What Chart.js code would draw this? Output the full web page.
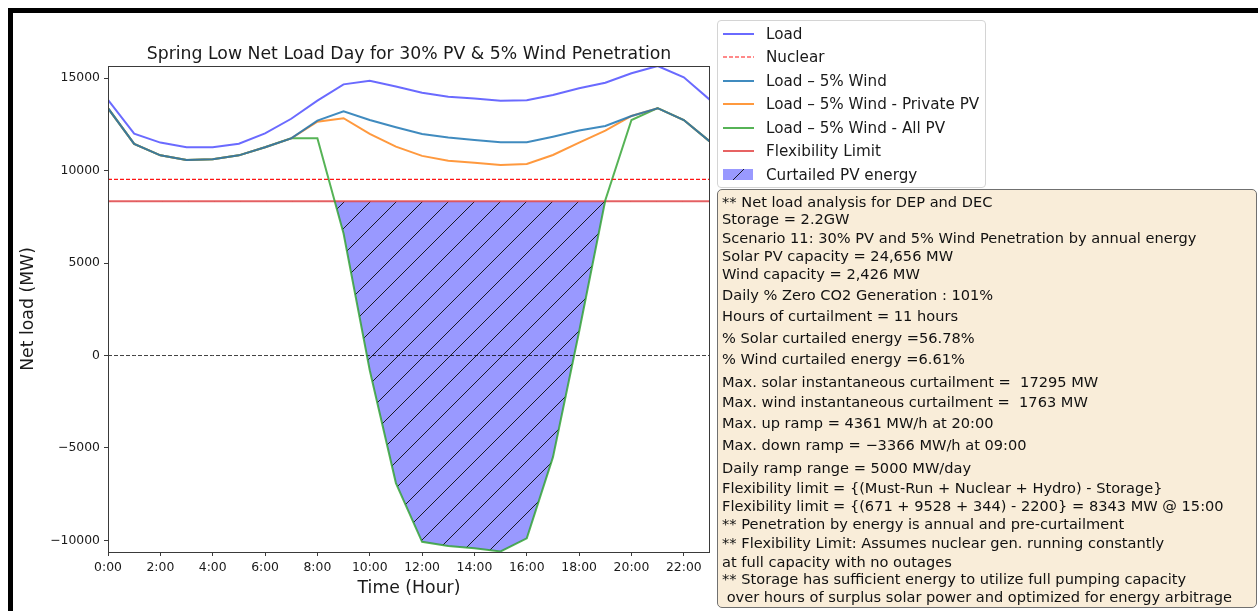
<!DOCTYPE html>
<html>
<head>
<meta charset="utf-8">
<script src="https://cdn.jsdelivr.net/npm/chart.js@4.4.0/dist/chart.umd.min.js"></script>
<style>
html,body{margin:0;padding:0;background:#fff;}
#wrap{position:relative;width:1258px;height:611px;overflow:hidden;font-family:"DejaVu Sans",sans-serif;background:#fff;}
#frame{position:absolute;left:8px;top:8px;right:-10px;bottom:-10px;border-top:5px solid #000;border-left:5px solid #000;pointer-events:none;}
#chart{position:absolute;left:0;top:0;}
#legend{position:absolute;left:717px;top:20px;width:267px;height:166px;border:1px solid #d4d4d4;border-radius:4px;background:rgba(255,255,255,0.85);}
.lg-row{position:absolute;left:0;width:265px;height:20px;}
.lg-sw{position:absolute;left:4px;top:0;}
.lg-tx{position:absolute;left:48px;top:0;line-height:20px;font-size:15.2px;color:#1a1a1a;white-space:pre;}
#note{position:absolute;left:717px;top:189px;width:538px;height:417px;border:1px solid #707070;border-radius:5px;background:rgb(249,237,217);}
.nl{position:absolute;left:4px;line-height:20px;font-size:14.6px;color:#111;white-space:pre;}
</style>
</head>
<body>
<div id="wrap">
  <canvas id="chart" width="1258" height="611"></canvas>
  <div id="legend"></div>
  <div id="note"></div>
  <div id="frame"></div>
</div>
<script>
// ---------- data ----------
const hours = [0,1,2,3,4,5,6,7,8,9,10,11,12,13,14,15,16,17,18,19,20,21,22,23];
const loadMW = [13830,12000,11520,11270,11270,11460,12020,12810,13790,14670,14870,14550,14220,14000,13910,13790,13810,14100,14460,14760,15270,15666,15050,13830];
const loadMinusWind = [13380,11450,10830,10580,10620,10830,11270,11750,12710,13210,12740,12350,11990,11790,11660,11540,11540,11840,12170,12420,12960,13380,12740,11570];
const loadMinusWindPrivatePV = [13380,11450,10830,10580,10620,10830,11270,11750,12650,12840,11990,11300,10800,10540,10430,10310,10360,10850,11520,12170,12960,13380,12740,11570];
const loadMinusWindAllPV = [13380,11450,10830,10580,10620,10830,11270,11750,11750,6600,-800,-6900,-10080,-10300,-10430,-10600,-9890,-5500,1300,8400,12740,13380,12740,11570];
const nuclearMW = 9528;
const flexLimitMW = 8343;
const zeroMW = 0;
const xTickHours = [0,2,4,6,8,10,12,14,16,18,20,22];
const xTickLabels = ['0:00','2:00','4:00','6:00','8:00','10:00','12:00','14:00','16:00','18:00','20:00','22:00'];
const yTickValues = [-10000,-5000,0,5000,10000,15000];
const yMin = -10630, yMax = 15666;

const noteLines = [
  '** Net load analysis for DEP and DEC',
  'Storage = 2.2GW',
  'Scenario 11: 30% PV and 5% Wind Penetration by annual energy',
  'Solar PV capacity = 24,656 MW',
  'Wind capacity = 2,426 MW',
  'Daily % Zero CO2 Generation : 101%',
  'Hours of curtailment = 11 hours',
  '% Solar curtailed energy =56.78%',
  '% Wind curtailed energy =6.61%',
  'Max. solar instantaneous curtailment =  17295 MW',
  'Max. wind instantaneous curtailment =  1763 MW',
  'Max. up ramp = 4361 MW/h at 20:00',
  'Max. down ramp = \u22123366 MW/h at 09:00',
  'Daily ramp range = 5000 MW/day',
  'Flexibility limit = {(Must-Run + Nuclear + Hydro) - Storage}',
  'Flexibility limit = {(671 + 9528 + 344) - 2200} = 8343 MW @ 15:00',
  '** Penetration by energy is annual and pre-curtailment',
  '** Flexibility Limit: Assumes nuclear gen. running constantly',
  'at full capacity with no outages',
  '** Storage has sufficient energy to utilize full pumping capacity',
  ' over hours of surplus solar power and optimized for energy arbitrage'
];
// ---------- layout (page pixels) ----------
const noteLineCenters = [201.7,219.3,238.3,256,274.3,295,316,337.7,359.3,382.3,401.7,423.3,445,468.3,488.3,506,524,543.3,561.7,579,596.7];

const FONT = '"DejaVu Sans", sans-serif';
const hatchFill = 'rgb(153,153,255)';

function makeHatch(){
  const s = 26;
  const c = document.createElement('canvas');
  c.width = s; c.height = s;
  const g = c.getContext('2d');
  g.fillStyle = hatchFill; g.fillRect(0,0,s,s);
  g.strokeStyle = 'rgba(0,0,0,0.85)'; g.lineWidth = 1;
  g.beginPath();
  g.moveTo(-1,s+1); g.lineTo(s+1,-1);
  g.moveTo(-1,1); g.lineTo(1,-1);
  g.moveTo(s-1,s+1); g.lineTo(s+1,s-1);
  g.stroke();
  return c;
}
const hatchCanvas = makeHatch();
const ctx0 = document.getElementById('chart').getContext('2d');
const hatchPattern = ctx0.createPattern(hatchCanvas,'repeat');

const pts = arr => hours.map((h,i)=>({x:h,y:arr[i]}));
const constPts = v => hours.map(h=>({x:h,y:v}));

const datasets = [
  {label:'Load', data:pts(loadMW), borderColor:'rgba(80,80,255,0.85)', borderWidth:2},
  {label:'Nuclear', data:constPts(nuclearMW), borderColor:'rgb(255,20,20)', borderWidth:1.2, borderDash:[4,2]},
  {label:'Load \u2013 5% Wind', data:pts(loadMinusWind), borderColor:'rgba(31,119,180,0.85)', borderWidth:2},
  {label:'Load \u2013 5% Wind - Private PV', data:pts(loadMinusWindPrivatePV), borderColor:'rgba(255,127,14,0.8)', borderWidth:2},
  {label:'Load \u2013 5% Wind - All PV', data:pts(loadMinusWindAllPV), borderColor:'rgba(44,160,44,0.8)', borderWidth:2},
  {label:'Flexibility Limit', data:constPts(flexLimitMW), borderColor:'rgba(225,60,60,0.8)', borderWidth:2},
  {label:'Curtailed PV energy', data:pts(loadMinusWindAllPV), borderWidth:0, borderColor:'rgba(0,0,0,0)',
    backgroundColor:hatchPattern, isPatch:true,
    fill:{target:{value:flexLimitMW}, above:'rgba(0,0,0,0)', below:hatchPattern}},
  {label:'', data:constPts(zeroMW), borderColor:'rgba(0,0,0,0.75)', borderWidth:1, borderDash:[4,2], hideInLegend:true}
];
datasets.forEach(d=>{ d.pointRadius = 0; d.tension = 0; if(d.fill===undefined) d.fill = false; });
datasets[6].order = 10;

const spinePlugin = {
  id:'spines',
  afterDatasetsDraw(chart){
    const {ctx, chartArea:a} = chart;
    ctx.save();
    ctx.strokeStyle = '#3a3a3a'; ctx.lineWidth = 1;
    ctx.strokeRect(Math.round(a.left)+0.5, Math.round(a.top)+0.5, Math.round(a.right-a.left)-1, Math.round(a.bottom-a.top));
    ctx.restore();
  }
};

const chart = new Chart(ctx0, {
  type:'line',
  data:{datasets},
  plugins:[spinePlugin],
  options:{
    responsive:false, animation:false, devicePixelRatio:1,
    events:[],
    layout:{padding:{left:0, right:548, top:0, bottom:0}},
    plugins:{
      legend:{display:false}, tooltip:{enabled:false},
      title:{display:true, fullSize:false, text:'Spring Low Net Load Day for 30% PV & 5% Wind Penetration',
        color:'#1a1a1a', font:{family:FONT, size:17.3, weight:'normal', lineHeight:1.2},
        padding:{top:44, bottom:1.2}},
      filler:{propagate:false}
    },
    scales:{
      x:{type:'linear', min:0, max:23,
        afterBuildTicks:s=>{ s.ticks = xTickHours.map(v=>({value:v})); },
        afterFit:s=>{ s.height = 59; },
        ticks:{autoSkip:false, maxRotation:0, padding:4, color:'#1a1a1a', font:{family:FONT,size:12.4},
          callback:(v,i)=>xTickLabels[i]},
        grid:{drawOnChartArea:false, drawTicks:true, tickLength:4, color:'#3a3a3a'},
        border:{display:false},
        title:{display:true, text:'Time (Hour)', color:'#1a1a1a', font:{family:FONT,size:17.3}, padding:{top:0,bottom:12.5}}
      },
      y:{type:'linear', min:yMin, max:yMax,
        afterBuildTicks:s=>{ s.ticks = yTickValues.map(v=>({value:v})); },
        afterFit:s=>{ s.width = 108; },
        ticks:{padding:4, color:'#1a1a1a', font:{family:FONT,size:12.4},
          callback:v=> v<0 ? '\u2212'+Math.abs(v) : String(v)},
        grid:{drawOnChartArea:false, drawTicks:true, tickLength:4, color:'#3a3a3a'},
        border:{display:false},
        title:{display:true, text:'Net load (MW)', color:'#1a1a1a', font:{family:FONT,size:17.3}, padding:{top:18,bottom:0}}
      }
    }
  }
});

// ---------- HTML legend built from the chart datasets ----------
const legendEl = document.getElementById('legend');
const legendRowCenters = [12.5,36,59.5,83,106.5,130,153.5];
let li = 0;
chart.data.datasets.forEach(ds=>{
  if(ds.hideInLegend) return;
  const row = document.createElement('div');
  row.className = 'lg-row';
  row.style.top = (legendRowCenters[li]-10)+'px';
  const sw = document.createElement('canvas');
  sw.className = 'lg-sw'; sw.width = 32; sw.height = 20;
  const g = sw.getContext('2d');
  if(ds.isPatch){
    g.fillStyle = g.createPattern(hatchCanvas,'repeat');
    g.fillRect(1,4,30,11);
  } else {
    g.strokeStyle = ds.borderColor; g.lineWidth = ds.borderWidth;
    if(ds.borderDash) g.setLineDash(ds.borderDash);
    g.beginPath(); g.moveTo(1,10); g.lineTo(32,10); g.stroke();
  }
  row.appendChild(sw);
  const tx = document.createElement('div');
  tx.className = 'lg-tx'; tx.textContent = ds.label;
  row.appendChild(tx);
  legendEl.appendChild(row);
  li++;
});

// ---------- annotation box ----------
const noteEl = document.getElementById('note');
noteLines.forEach((t,i)=>{
  const d = document.createElement('div');
  d.className = 'nl';
  d.textContent = t;
  d.style.top = (noteLineCenters[i] - 190 - 10)+'px';
  noteEl.appendChild(d);
});
</script>
</body>
</html>
